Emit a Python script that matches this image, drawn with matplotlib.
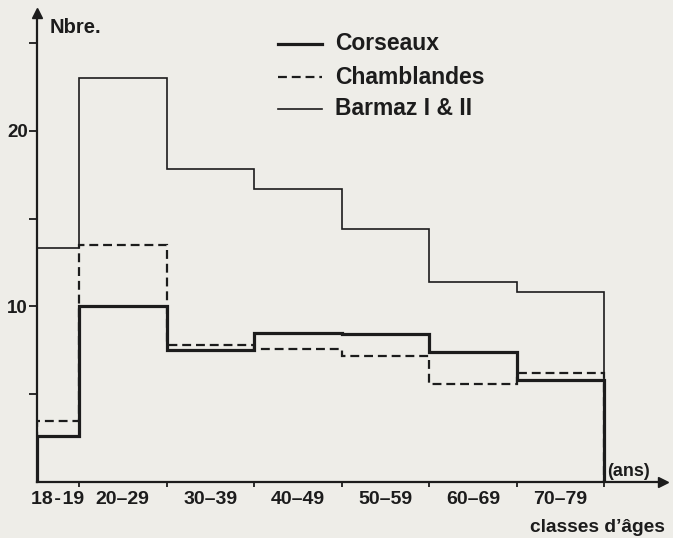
import matplotlib
matplotlib.use("Agg")
import matplotlib.pyplot as plt
from matplotlib.lines import Line2D
import numpy as np

# ---- data ----
classes = ["18\u200a-\u200a19", "20–29", "30–39", "40–49", "50–59", "60–69", "70–79"]
corseaux = [2.6, 10.0, 7.5, 8.5, 8.45, 7.4, 5.8]
chamblandes = [3.5, 13.5, 7.8, 7.6, 7.2, 5.6, 6.2]
barmaz = [13.3, 23.0, 17.8, 16.7, 14.4, 11.4, 10.8]
series_names = ["Corseaux", "Chamblandes", "Barmaz I & II"]
y_ticks = [5, 10, 15, 20, 25]
y_labels = ["", "10", "", "20", ""]

# ---- layout ----
W, H = 673, 538
class_widths = [0.48] + [1.0] * 6
edges = np.concatenate([[0], np.cumsum(class_widths)])
centers = (edges[:-1] + edges[1:]) / 2

ink = "#1c1c1c"
bg = "#eeede8"
plt.rcParams['font.family'] = ['Liberation Sans', 'DejaVu Sans']

fig = plt.figure(figsize=(W / 100, H / 100), dpi=100, facecolor=bg)
ax = fig.add_axes([37 / W, 56 / H, (663 - 37) / W, (482 - 13) / H])
ax.set_facecolor(bg)
ax.set_xlim(0, 7.15)
ax.set_ylim(0, 26.7)

for s in ["top", "right"]:
    ax.spines[s].set_visible(False)
for s in ["left", "bottom"]:
    ax.spines[s].set_color(ink)
    ax.spines[s].set_linewidth(1.6)

# arrows
ax.plot([0], [1], marker="^", color=ink, markersize=7, transform=ax.transAxes, clip_on=False)
ax.plot([1], [0], marker=">", color=ink, markersize=7, transform=ax.transAxes, clip_on=False)

# series
ax.stairs(barmaz, edges, baseline=0, color=ink, linewidth=1.2, zorder=3)
ax.stairs(chamblandes, edges, baseline=0, color=ink, linewidth=1.6, linestyle=(0, (4, 2.2)), zorder=4)
ax.stairs(corseaux, edges, baseline=0, color=ink, linewidth=2.3, zorder=5)

# y ticks
ax.set_yticks(y_ticks)
ax.set_yticklabels(y_labels, fontsize=13.5, fontweight="bold", color=ink)
ax.tick_params(axis="y", direction="out", length=5.5, width=1.3, color=ink, pad=1)

# x ticks
ax.set_xticks(edges[1:])
ax.set_xticklabels([])
ax.tick_params(axis="x", direction="out", length=3.5, width=1.3, color=ink)
for c, lab in zip(centers, classes):
    ax.text(c, -1.0, lab, ha="center", va="center", fontsize=14, fontweight="bold",
            color=ink, transform=ax.transData, clip_on=False)

# axis texts
fig.text(50 / W, 1 - 28 / H, "Nbre.", ha="left", va="center", fontsize=14.5, fontweight="bold", color=ink)
fig.text(607 / W, 1 - 471 / H, "(ans)", ha="left", va="center", fontsize=13, fontweight="bold", color=ink)
fig.text(665 / W, 1 - 527 / H, "classes d’âges", ha="right", va="center", fontsize=13.8, fontweight="bold", color=ink)

# legend (manual)
styles = [dict(linewidth=2.3), dict(linewidth=1.6, linestyle=(0, (4, 2.2))), dict(linewidth=1.2)]
rows = [44, 77, 109]
for name, st, yy in zip(series_names, styles, rows):
    yf = 1 - yy / H
    fig.add_artist(Line2D([278 / W, 322 / W], [yf, yf], color=ink, transform=fig.transFigure, **st))
    fig.text(335 / W, yf, name, ha="left", va="center", fontsize=16.5, fontweight="bold", color=ink)

fig.savefig("out.png", dpi=100, facecolor=bg)
